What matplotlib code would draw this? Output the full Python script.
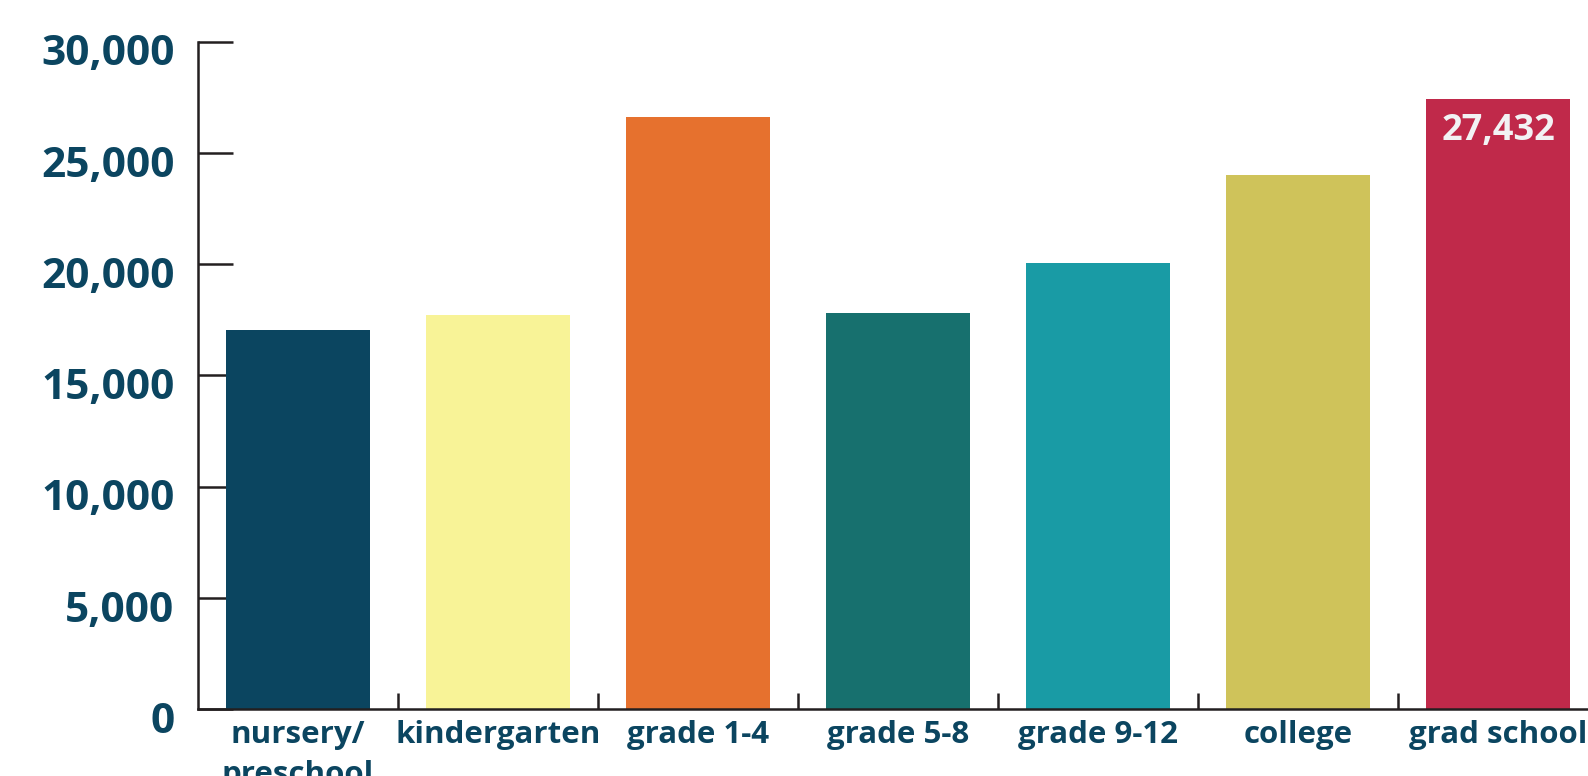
import numpy as np
import matplotlib.pyplot as plt
from matplotlib.transforms import ScaledTranslation

plt.rcParams['font.family'] = ['Open Sans', 'DejaVu Sans']
plt.rcParams['font.weight'] = 'bold'

categories = ["nursery/\npreschool", "kindergarten", "grade 1-4", "grade 5-8",
              "grade 9-12", "college", "grad school"]
values = [17040, 17700, 26600, 17800, 20050, 24000, 27432]
colors = ["#0b4560", "#f8f397", "#e6712e", "#17706e", "#199ba5", "#cfc35a", "#c0294a"]
yticks = [0, 5000, 10000, 15000, 20000, 25000, 30000]

text_col = "#0b4560"
axis_col = "#231f20"

fig = plt.figure(figsize=(15.88, 7.76), dpi=100)
# axes runs a little past the right edge, like the original
ax = fig.add_axes([198/1588, 1 - 709/776, 1400/1588, (709 - 41.6)/776])

x = np.arange(len(categories))
ax.bar(x, values, width=0.72, color=colors, zorder=1)
ax.set_axisbelow(True)

ax.set_xlim(-0.5, len(categories) - 0.5)
ax.set_ylim(0, 30000)

for s in ["top", "right"]:
    ax.spines[s].set_visible(False)
for s in ["left", "bottom"]:
    ax.spines[s].set_color(axis_col)
    ax.spines[s].set_linewidth(1.8)
    ax.spines[s].set_zorder(3)

# y axis
ax.set_yticks(yticks)
ax.set_yticklabels([f"{v:,}" for v in yticks])
ax.tick_params(axis="y", direction="in", length=25, width=1.8, color=axis_col,
               pad=17, labelsize=30.5, labelcolor=text_col)
for lab in ax.get_yticklabels():
    lab.set_fontweight("bold")
    lab.set_transform(lab.get_transform() + ScaledTranslation(0, -6/72, fig.dpi_scale_trans))

# x axis: ticks on category boundaries, labels centred
ax.set_xticks(x[:-1] + 0.5)
ax.set_xticklabels([])
ax.set_xticks(x, minor=True)
ax.set_xticklabels(categories, minor=True)
ax.tick_params(axis="x", which="major", direction="in", length=11.5, width=1.8,
               color=axis_col)
ax.tick_params(axis="x", which="minor", length=0, pad=8, labelsize=22.5,
               labelcolor=text_col)
for lab in ax.get_xticklabels(minor=True):
    lab.set_fontweight("bold")
    lab.set_linespacing(1.45)

# value label on last bar
ax.annotate(f"{values[-1]:,}", xy=(x[-1], values[-1]), xytext=(0, -14),
            textcoords="offset pixels", ha="center", va="top",
            fontsize=26, fontweight="bold", color="#f2f2f4")

fig.savefig("out.png", dpi=100)
